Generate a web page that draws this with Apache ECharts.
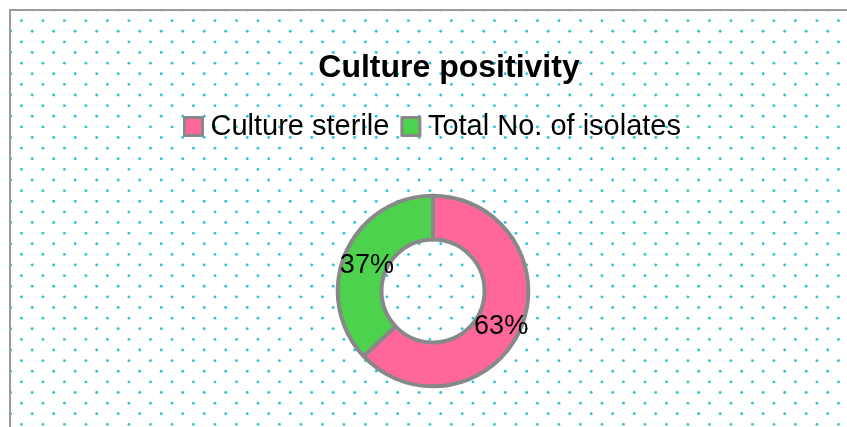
<!DOCTYPE html>
<html>
<head>
<meta charset="utf-8">
<script src="https://cdn.jsdelivr.net/npm/echarts@6/dist/echarts.min.js"></script>
<style>
html,body{margin:0;padding:0;background:#fff;}
#chart{width:847px;height:427px;}
</style>
</head>
<body>
<div id="chart"></div>
<script>
const titleText = 'Culture positivity';
const categories = ['Culture sterile', 'Total No. of isolates'];
const values = [63, 37];
const colors = ['#FF6699', '#4DD24D'];

// dotted background tile
function makeDotTile() {
  const TW = 43, TH = 85;
  const c = document.createElement('canvas');
  c.width = TW; c.height = TH;
  const ctx = c.getContext('2d');
  ctx.fillStyle = '#2FC6CE';
  for (let j = 0; j < 8; j++) {
    const y = 10 + j * 10.625;
    const x0 = (j % 2 === 0) ? 10.7 : 21.45;
    for (let k = 0; k < 2; k++) {
      const x = (x0 + k * 21.5) % TW;
      const yy = y % TH;
      for (let dx = -1; dx <= 1; dx++) {
        for (let dy = -1; dy <= 1; dy++) {
          ctx.beginPath();
          ctx.arc(x + dx * TW, yy + dy * TH, 1.45, 0, Math.PI * 2);
          ctx.fill();
        }
      }
    }
  }
  return c;
}
const tile = makeDotTile();

const chart = echarts.init(document.getElementById('chart'), null, {renderer: 'canvas'});
chart.setOption({
  animation: false,
  backgroundColor: '#ffffff',
  graphic: [{
    type: 'rect',
    z: -10,
    silent: true,
    shape: {x: 10, y: 10, width: 900, height: 500},
    style: {fill: {image: tile, repeat: 'repeat'}, stroke: '#9a9a9a', lineWidth: 2}
  }],
  title: {
    text: titleText,
    left: 444,
    textAlign: 'center',
    top: 47,
    textStyle: {fontFamily: 'Liberation Sans', fontWeight: 'bold', fontSize: 32, color: '#000'}
  },
  legend: {
    data: categories,
    left: 183,
    top: 112,
    padding: 0,
    itemWidth: 18,
    itemHeight: 18,
    itemGap: 11,
    icon: 'rect',
    selectedMode: false,
    itemStyle: {borderColor: '#888888', borderWidth: 3},
    textStyle: {fontFamily: 'Liberation Sans', fontSize: 29, color: '#000', lineHeight: 29, padding: [0, 0, 0, 3]}
  },
  series: [{
    type: 'pie',
    center: [433, 291],
    radius: [51.5, 95.3],
    startAngle: 90,
    clockwise: true,
    silent: true,
    avoidLabelOverlap: false,
    itemStyle: {borderColor: '#888888', borderWidth: 4},
    label: {
      show: true,
      position: 'inside',
      formatter: function (p) { return p.value + '%'; },
      fontFamily: 'Liberation Sans',
      fontSize: 27,
      color: '#000'
    },
    labelLayout: function (p) {
      return p.dataIndex === 0 ? {dx: -2, dy: 5} : {dx: 4, dy: 5};
    },
    labelLine: {show: false},
    emphasis: {disabled: true},
    data: categories.map(function (name, i) {
      return {name: name, value: values[i], itemStyle: {color: colors[i]}};
    })
  }]
});
</script>
</body>
</html>
